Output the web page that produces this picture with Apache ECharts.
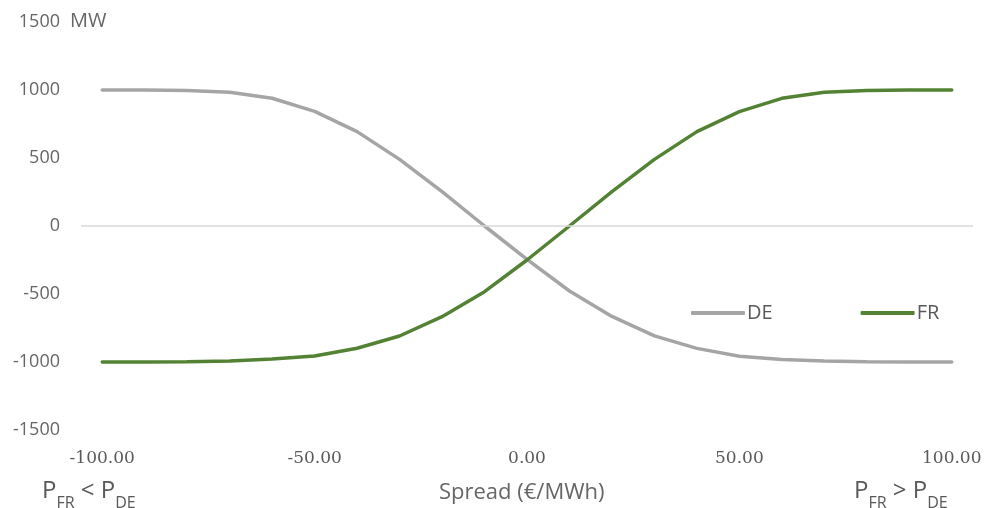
<!DOCTYPE html>
<html><head><meta charset="utf-8">
<script src="https://cdn.jsdelivr.net/npm/echarts@6/dist/echarts.min.js"></script>
<style>html,body{margin:0;padding:0;background:#fff}#c{width:987px;height:508px}</style>
</head><body><div id="c"></div>
<script>
const spread = [-100,-90,-80,-70,-60,-50,-40,-30,-20,-10,0,10,20,30,40,50,60,70,80,90,100];
const DE = [1000,1000,997,983,939,843,694,490,252,0,-245,-478,-665,-808,-900,-958,-982,-993,-998,-1000,-1000];
const FR = [-1000,-1000,-998,-993,-978,-956,-899,-809,-667,-483,-250,0,252,490,694,841,939,983,997,1000,1000];
const yTicks = {min:-1500, max:1500, interval:500};
const unitLabel = 'MW';

const subRich = {
  p:{fontFamily:'Open Sans', fontSize:24, fill:'#595959', verticalAlign:'bottom', lineHeight:32},
  s:{fontFamily:'Open Sans', fontSize:16, fill:'#595959', verticalAlign:'bottom', lineHeight:32, padding:[0,0,-8,0]}
};

const chart = echarts.init(document.getElementById('c'));
chart.setOption({
  animation:false,
  backgroundColor:'#fff',
  grid:{left:81, right:14, top:22, bottom:78},
  legend:{
    left:686, top:298, itemWidth:54, itemHeight:4, itemGap:88, icon:'roundRect',
    textStyle:{fontFamily:'Open Sans', fontSize:20, color:'#595959', padding:[0,0,0,-3]},
    data:['DE','FR']
  },
  xAxis:{
    type:'category', data:spread, boundaryGap:true,
    axisLine:{show:false}, axisTick:{show:false},
    axisLabel:{interval:4, margin:20, fontFamily:'DejaVu Serif', fontSize:17, color:'#595959',
      formatter:v=>Number(v).toFixed(2)}
  },
  yAxis:{
    type:'value', min:yTicks.min, max:yTicks.max, interval:yTicks.interval,
    axisLine:{show:false}, axisTick:{show:false}, splitLine:{show:false},
    axisLabel:{margin:21, fontFamily:'Open Sans', fontSize:18, color:'#666666', formatter:v=>String(v)}
  },
  series:[
    {name:'DE', type:'line', data:DE, symbol:'none', smooth:false,
      lineStyle:{color:'#A5A5A5', width:3.5, cap:'round'}, itemStyle:{color:'#A5A5A5'},
      markLine:{silent:true, symbol:'none', label:{show:false},
        lineStyle:{color:'#D9D9D9', width:1.5, type:'solid'}, data:[{yAxis:0}]}},
    {name:'FR', type:'line', data:FR, symbol:'none', smooth:false,
      lineStyle:{color:'#548235', width:3.5, cap:'round'}, itemStyle:{color:'#548235'}}
  ],
  graphic:[
    {type:'text', left:70, top:11, style:{text:unitLabel, font:'20px "Open Sans"', fill:'#666666'}},
    {type:'text', left:439, top:482, style:{text:'Spread (€/MWh)', font:'22px "Open Sans"', fill:'#666666'}},
    {type:'text', left:42, top:479, style:{text:'{p|P}{s|FR}{p| < P}{s|DE}', fill:'#595959', rich:subRich}},
    {type:'text', left:854, top:479, style:{text:'{p|P}{s|FR}{p| > P}{s|DE}', fill:'#595959', rich:subRich}}
  ]
});
</script></body></html>
